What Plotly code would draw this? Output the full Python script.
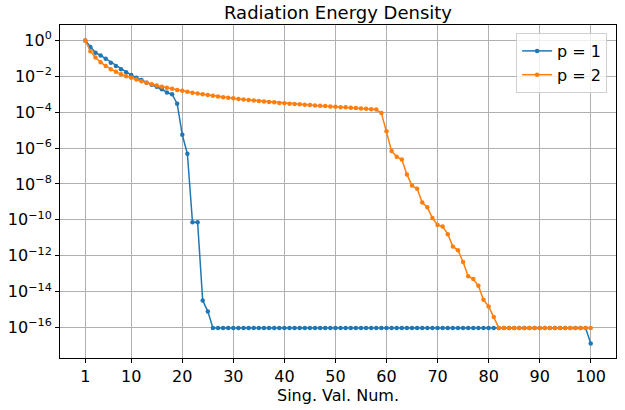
import plotly.graph_objects as go

sing_val_num = list(range(1, 101))

p1_values = [
    1.0, 0.427, 0.209, 0.145, 0.0955, 0.0575, 0.0372, 0.0245, 0.017, 0.01175,
    0.0083, 0.00617, 0.00437, 0.00339, 0.00263, 0.00191, 0.00126, 0.001, 3.0e-4, 5.5e-6,
    4.8e-7, 7.4e-11, 7.4e-11, 3.2e-15, 7.9e-16, 9.5e-17, 9.5e-17, 9.5e-17, 9.5e-17, 9.5e-17,
    9.5e-17, 9.5e-17, 9.5e-17, 9.5e-17, 9.5e-17, 9.5e-17, 9.5e-17, 9.5e-17, 9.5e-17, 9.5e-17,
    9.5e-17, 9.5e-17, 9.5e-17, 9.5e-17, 9.5e-17, 9.5e-17, 9.5e-17, 9.5e-17, 9.5e-17, 9.5e-17,
    9.5e-17, 9.5e-17, 9.5e-17, 9.5e-17, 9.5e-17, 9.5e-17, 9.5e-17, 9.5e-17, 9.5e-17, 9.5e-17,
    9.5e-17, 9.5e-17, 9.5e-17, 9.5e-17, 9.5e-17, 9.5e-17, 9.5e-17, 9.5e-17, 9.5e-17, 9.5e-17,
    9.5e-17, 9.5e-17, 9.5e-17, 9.5e-17, 9.5e-17, 9.5e-17, 9.5e-17, 9.5e-17, 9.5e-17, 9.5e-17,
    9.5e-17, 9.5e-17, 9.5e-17, 9.5e-17, 9.5e-17, 9.5e-17, 9.5e-17, 9.5e-17, 9.5e-17, 9.5e-17,
    9.5e-17, 9.5e-17, 9.5e-17, 9.5e-17, 9.5e-17, 9.5e-17, 9.5e-17, 9.5e-17, 9.5e-17, 1.3e-17,
]

p2_values = [
    1.0, 0.251, 0.112, 0.0603, 0.038, 0.0251, 0.0178, 0.0132, 0.0102, 0.0083,
    0.0066, 0.00537, 0.00437, 0.00363, 0.00309, 0.00263, 0.00229, 0.002, 0.00174, 0.00155,
    0.00138, 0.00123, 0.0011, 0.001, 9.1e-4, 8.3e-4, 7.6e-4, 6.9e-4, 6.3e-4, 5.9e-4,
    5.5e-4, 5.1e-4, 4.8e-4, 4.5e-4, 4.2e-4, 4.0e-4, 3.7e-4, 3.55e-4, 3.3e-4, 3.16e-4,
    3.0e-4, 2.9e-4, 2.75e-4, 2.63e-4, 2.5e-4, 2.4e-4, 2.3e-4, 2.2e-4, 2.1e-4, 2.0e-4,
    1.9e-4, 1.86e-4, 1.78e-4, 1.7e-4, 1.62e-4, 1.55e-4, 1.48e-4, 1.41e-4, 8.9e-5, 8.7e-6,
    6.8e-7, 3.3e-7, 2.3e-7, 3.4e-8, 8.1e-9, 5.4e-9, 9.3e-10, 5.0e-10, 1.26e-10, 5.2e-11,
    4.2e-11, 1.6e-11, 3.3e-12, 2.0e-12, 4.5e-13, 7.1e-14, 5.0e-14, 2.1e-14, 3.5e-15, 1.5e-15,
    3.8e-16, 9.5e-17, 9.5e-17, 9.5e-17, 9.5e-17, 9.5e-17, 9.5e-17, 9.5e-17, 9.5e-17, 9.5e-17,
    9.5e-17, 9.5e-17, 9.5e-17, 9.5e-17, 9.5e-17, 9.5e-17, 9.5e-17, 9.5e-17, 9.5e-17, 9.5e-17,
]

x_tick_vals = [1, 10, 20, 30, 40, 50, 60, 70, 80, 90, 100]
x_tick_text = ["1", "10", "20", "30", "40", "50", "60", "70", "80", "90", "100"]
y_tick_exps = [0, -2, -4, -6, -8, -10, -12, -14, -16]
y_tick_vals = [1e0, 1e-2, 1e-4, 1e-6, 1e-8, 1e-10, 1e-12, 1e-14, 1e-16]
y_tick_text = ["10<sup>%s</sup>" % (str(e).replace("-", "\u2212")) for e in y_tick_exps]

series_names = ["p = 1", "p = 2"]
series_colors = ["#1f77b4", "#ff7f0e"]

fig = go.Figure()
for name, vals, col in zip(series_names, [p1_values, p2_values], series_colors):
    fig.add_trace(go.Scatter(
        x=sing_val_num, y=vals, mode="lines+markers", name=name,
        line=dict(color=col, width=1.5),
        marker=dict(color=col, size=4.5),
    ))

font_family = "DejaVu Sans"
fig.update_layout(
    width=625, height=410,
    margin=dict(l=58, r=8, t=25, b=52),
    paper_bgcolor="white", plot_bgcolor="white",
    font=dict(family=font_family, size=16, color="black"),
    title=dict(text="Radiation Energy Density", x=0.5, xref="paper", xanchor="center",
               y=0.968, yref="container", yanchor="middle",
               font=dict(size=18, family=font_family, color="black")),
    legend=dict(x=0.984, y=0.976, xanchor="right", yanchor="top",
                bgcolor="rgba(255,255,255,0.8)", bordercolor="#d0d0d0", borderwidth=1,
                font=dict(size=16, family=font_family), tracegroupgap=2),
    showlegend=True,
)
fig.update_xaxes(
    range=[-3.95, 104.95], tickmode="array", tickvals=x_tick_vals, ticktext=x_tick_text,
    showgrid=True, gridcolor="#b0b0b0", gridwidth=0.8,
    showline=True, linecolor="black", linewidth=1, mirror=True,
    ticks="outside", ticklen=4, tickcolor="black", zeroline=False,
    tickfont=dict(size=16),
    title=dict(text="Sing. Val. Num.", font=dict(size=16), standoff=3),
)
fig.update_yaxes(
    type="log", range=[-17.7, 0.86], tickmode="array", tickvals=y_tick_vals, ticktext=y_tick_text,
    showgrid=True, gridcolor="#b0b0b0", gridwidth=0.8,
    showline=True, linecolor="black", linewidth=1, mirror=True,
    ticks="outside", ticklen=4, tickcolor="black", zeroline=False,
    tickfont=dict(size=16),
)

fig.write_html("out.html")
